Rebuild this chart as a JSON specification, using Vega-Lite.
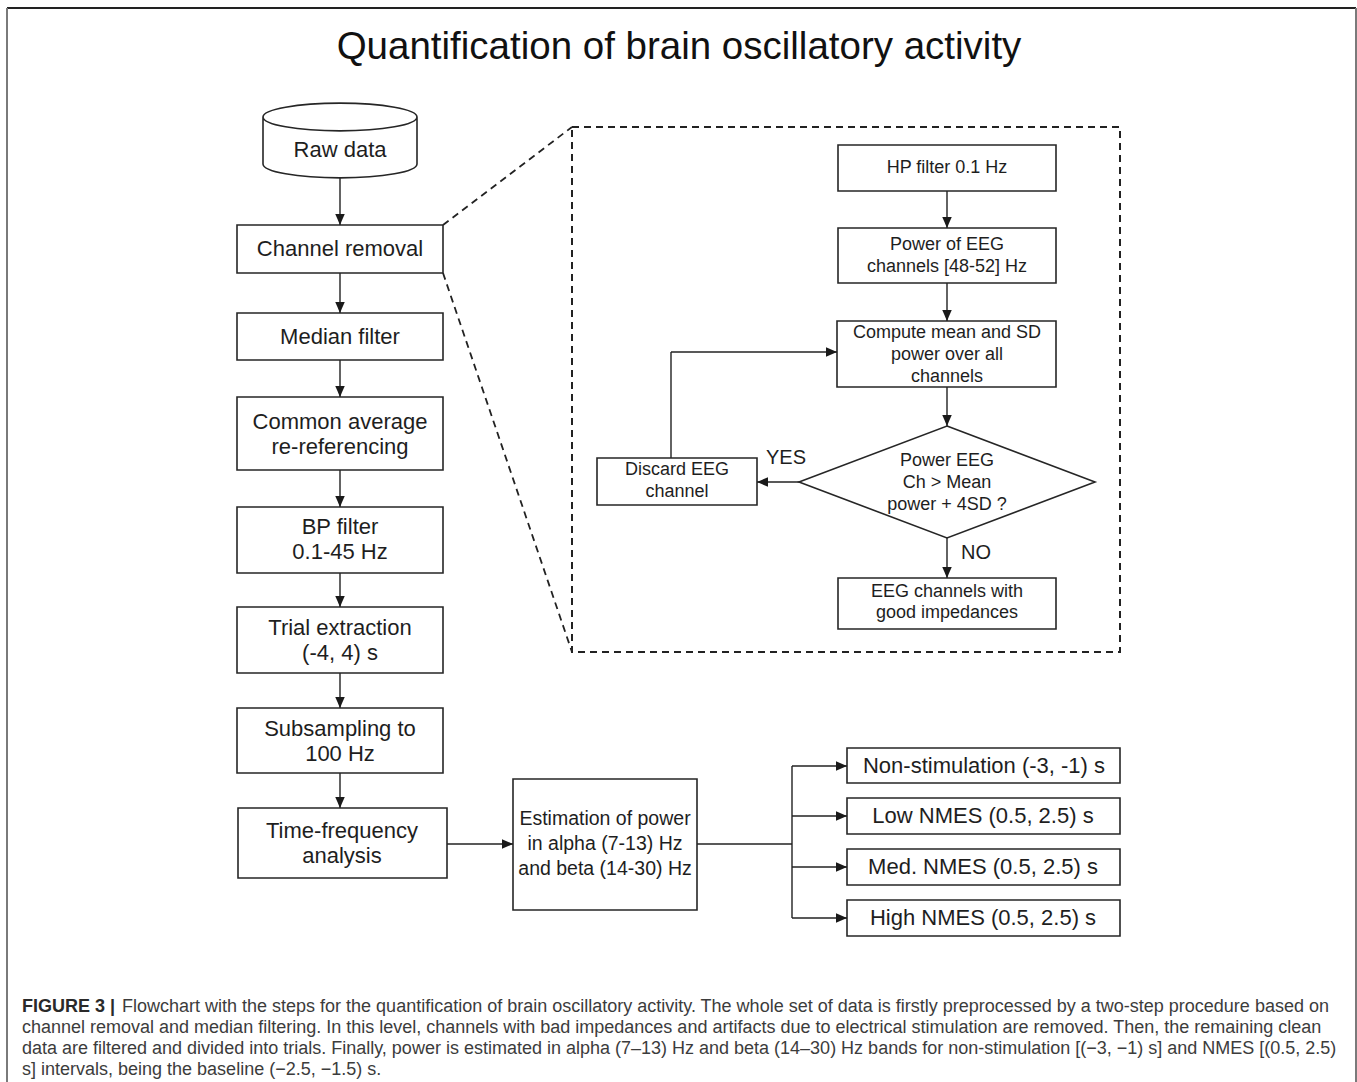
{
  "$schema": "https://vega.github.io/schema/vega-lite/v6.json",
  "width": 1357,
  "height": 1082,
  "padding": 0,
  "autosize": "none",
  "background": "white",
  "config": {"view": {"stroke": null}},
  "datasets": {
    "frame": [
      {"x": 7, "y": 8, "x2": 1356, "y2": 8, "side": "top"},
      {"x": 7, "y": 8, "x2": 7, "y2": 1082, "side": "left"},
      {"x": 1356, "y": 8, "x2": 1356, "y2": 1082, "side": "right"}
    ],
    "boxes": [
      {"name": "Channel removal", "x1": 237, "x2": 443, "y1": 225, "y2": 273},
      {"name": "Median filter", "x1": 237, "x2": 443, "y1": 313, "y2": 360},
      {"name": "Common average", "x1": 237, "x2": 443, "y1": 397, "y2": 470},
      {"name": "BP filter", "x1": 237, "x2": 443, "y1": 507, "y2": 573},
      {"name": "Trial extraction", "x1": 237, "x2": 443, "y1": 607, "y2": 673},
      {"name": "Subsampling", "x1": 237, "x2": 443, "y1": 708, "y2": 773},
      {"name": "Time-frequency", "x1": 238, "x2": 447, "y1": 808, "y2": 878},
      {"name": "Estimation", "x1": 513, "x2": 697, "y1": 779, "y2": 910},
      {"name": "Non-stimulation", "x1": 847, "x2": 1120, "y1": 748, "y2": 783},
      {"name": "Low NMES", "x1": 847, "x2": 1120, "y1": 798, "y2": 834},
      {"name": "Med NMES", "x1": 847, "x2": 1120, "y1": 849, "y2": 885},
      {"name": "High NMES", "x1": 847, "x2": 1120, "y1": 900, "y2": 936},
      {"name": "HP filter", "x1": 838, "x2": 1056, "y1": 145, "y2": 191},
      {"name": "Power of EEG", "x1": 838, "x2": 1056, "y1": 228, "y2": 283},
      {"name": "Compute", "x1": 837, "x2": 1056, "y1": 321, "y2": 387},
      {"name": "Discard", "x1": 597, "x2": 757, "y1": 458, "y2": 505},
      {"name": "Good channels", "x1": 838, "x2": 1056, "y1": 578, "y2": 629}
    ],
    "zoombox": [
      {"x1": 572, "x2": 1120, "y1": 127, "y2": 652}
    ],
    "cylinder": [{"name": "Raw data", "x": 340, "y": 140.5}],
    "decision": [{"name": "Power check", "x": 947, "y": 482}],
    "segments": [
      {"x": 340, "y": 178, "x2": 340, "y2": 225},
      {"x": 340, "y": 273, "x2": 340, "y2": 313},
      {"x": 340, "y": 360, "x2": 340, "y2": 397},
      {"x": 340, "y": 470, "x2": 340, "y2": 507},
      {"x": 340, "y": 573, "x2": 340, "y2": 607},
      {"x": 340, "y": 673, "x2": 340, "y2": 708},
      {"x": 340, "y": 773, "x2": 340, "y2": 808},
      {"x": 447, "y": 844, "x2": 513, "y2": 844},
      {"x": 697, "y": 844, "x2": 792, "y2": 844},
      {"x": 792, "y": 766, "x2": 792, "y2": 918},
      {"x": 792, "y": 766, "x2": 847, "y2": 766},
      {"x": 792, "y": 816, "x2": 847, "y2": 816},
      {"x": 792, "y": 867, "x2": 847, "y2": 867},
      {"x": 792, "y": 918, "x2": 847, "y2": 918},
      {"x": 947, "y": 191, "x2": 947, "y2": 228},
      {"x": 947, "y": 283, "x2": 947, "y2": 321},
      {"x": 947, "y": 387, "x2": 947, "y2": 426},
      {"x": 947, "y": 538, "x2": 947, "y2": 578},
      {"x": 799, "y": 482, "x2": 757, "y2": 482},
      {"x": 671, "y": 458, "x2": 671, "y2": 352},
      {"x": 671, "y": 352, "x2": 837, "y2": 352}
    ],
    "dashed": [
      {"x": 443, "y": 225, "x2": 572, "y2": 127},
      {"x": 443, "y": 273, "x2": 572, "y2": 652}
    ],
    "heads": [
      {"x": 340, "y": 225, "dir": "down"},
      {"x": 340, "y": 313, "dir": "down"},
      {"x": 340, "y": 397, "dir": "down"},
      {"x": 340, "y": 507, "dir": "down"},
      {"x": 340, "y": 607, "dir": "down"},
      {"x": 340, "y": 708, "dir": "down"},
      {"x": 340, "y": 808, "dir": "down"},
      {"x": 947, "y": 228, "dir": "down"},
      {"x": 947, "y": 321, "dir": "down"},
      {"x": 947, "y": 426, "dir": "down"},
      {"x": 947, "y": 578, "dir": "down"},
      {"x": 513, "y": 844, "dir": "right"},
      {"x": 847, "y": 766, "dir": "right"},
      {"x": 847, "y": 816, "dir": "right"},
      {"x": 847, "y": 867, "dir": "right"},
      {"x": 847, "y": 918, "dir": "right"},
      {"x": 837, "y": 352, "dir": "right"},
      {"x": 757, "y": 482, "dir": "left"}
    ],
    "labels": [
      {"kind": "main", "x": 340, "y": 150, "text": "Raw data"},
      {"kind": "main", "x": 340, "y": 249, "text": "Channel removal"},
      {"kind": "main", "x": 340, "y": 337, "text": "Median filter"},
      {"kind": "main", "x": 340, "y": 422, "text": "Common average"},
      {"kind": "main", "x": 340, "y": 447, "text": "re-referencing"},
      {"kind": "main", "x": 340, "y": 527, "text": "BP filter"},
      {"kind": "main", "x": 340, "y": 552, "text": "0.1-45 Hz"},
      {"kind": "main", "x": 340, "y": 628, "text": "Trial extraction"},
      {"kind": "main", "x": 340, "y": 653, "text": "(-4, 4) s"},
      {"kind": "main", "x": 340, "y": 729, "text": "Subsampling to"},
      {"kind": "main", "x": 340, "y": 754, "text": "100 Hz"},
      {"kind": "main", "x": 342, "y": 831, "text": "Time-frequency"},
      {"kind": "main", "x": 342, "y": 856, "text": "analysis"},
      {"kind": "estimate", "x": 605, "y": 819, "text": "Estimation of power"},
      {"kind": "estimate", "x": 605, "y": 844, "text": "in alpha (7-13) Hz"},
      {"kind": "estimate", "x": 605, "y": 869, "text": "and beta (14-30) Hz"},
      {"kind": "main", "x": 984, "y": 766, "text": "Non-stimulation (-3, -1) s"},
      {"kind": "main", "x": 983, "y": 816, "text": "Low NMES (0.5, 2.5) s"},
      {"kind": "main", "x": 983, "y": 867, "text": "Med. NMES (0.5, 2.5) s"},
      {"kind": "main", "x": 983, "y": 918, "text": "High NMES (0.5, 2.5) s"},
      {"kind": "inner", "x": 947, "y": 168, "text": "HP filter 0.1 Hz"},
      {"kind": "inner", "x": 947, "y": 245, "text": "Power of EEG"},
      {"kind": "inner", "x": 947, "y": 267, "text": "channels [48-52] Hz"},
      {"kind": "inner", "x": 947, "y": 333, "text": "Compute mean and SD"},
      {"kind": "inner", "x": 947, "y": 355, "text": "power over all"},
      {"kind": "inner", "x": 947, "y": 377, "text": "channels"},
      {"kind": "inner", "x": 947, "y": 461, "text": "Power EEG"},
      {"kind": "inner", "x": 947, "y": 483, "text": "Ch > Mean"},
      {"kind": "inner", "x": 947, "y": 505, "text": "power + 4SD ?"},
      {"kind": "inner", "x": 677, "y": 470, "text": "Discard EEG"},
      {"kind": "inner", "x": 677, "y": 492, "text": "channel"},
      {"kind": "inner", "x": 947, "y": 592, "text": "EEG channels with"},
      {"kind": "inner", "x": 947, "y": 613, "text": "good impedances"},
      {"kind": "branch", "x": 786, "y": 458, "text": "YES"},
      {"kind": "branch", "x": 976, "y": 553, "text": "NO"},
      {"kind": "title", "x": 679, "y": 47, "text": "Quantification of brain oscillatory activity"}
    ],
    "caption": [
      {"kind": "bold", "x": 22, "y": 1007, "text": "FIGURE 3"},
      {"kind": "bold", "x": 110, "y": 1007, "text": "|"},
      {"kind": "normal", "x": 122, "y": 1007, "text": "Flowchart with the steps for the quantification of brain oscillatory activity. The whole set of data is firstly preprocessed by a two-step procedure based on"},
      {"kind": "normal", "x": 22, "y": 1028, "text": "channel removal and median filtering. In this level, channels with bad impedances and artifacts due to electrical stimulation are removed. Then, the remaining clean"},
      {"kind": "normal", "x": 22, "y": 1049, "text": "data are filtered and divided into trials. Finally, power is estimated in alpha (7–13) Hz and beta (14–30) Hz bands for non-stimulation [(−3, −1) s] and NMES [(0.5, 2.5)"},
      {"kind": "normal", "x": 22, "y": 1070, "text": "s] intervals, being the baseline (−2.5, −1.5) s."}
    ]
  },
  "encoding": {
    "x": {"field": "x", "type": "quantitative", "scale": {"domain": [0, 1357], "nice": false, "zero": false}, "axis": null},
    "y": {"field": "y", "type": "quantitative", "scale": {"domain": [0, 1082], "nice": false, "zero": false, "reverse": true}, "axis": null}
  },
  "layer": [
    {
      "data": {"name": "frame"},
      "transform": [{"filter": "datum.side == 'top'"}],
      "mark": {"type": "rule", "stroke": "#222222", "strokeWidth": 2},
      "encoding": {"x2": {"field": "x2"}, "y2": {"field": "y2"}}
    },
    {
      "data": {"name": "frame"},
      "transform": [{"filter": "datum.side != 'top'"}],
      "mark": {"type": "rule", "stroke": "#7a7a7a", "strokeWidth": 2},
      "encoding": {"x2": {"field": "x2"}, "y2": {"field": "y2"}}
    },
    {
      "data": {"name": "zoombox"},
      "mark": {"type": "rect", "fill": null, "fillOpacity": 0, "stroke": "#222222", "strokeWidth": 2, "strokeDash": [7, 5]},
      "encoding": {
        "x": {"field": "x1", "type": "quantitative"},
        "x2": {"field": "x2"},
        "y": {"field": "y1", "type": "quantitative"},
        "y2": {"field": "y2"}
      }
    },
    {
      "data": {"name": "dashed"},
      "mark": {"type": "rule", "stroke": "#222222", "strokeWidth": 1.8, "strokeDash": [7, 5]},
      "encoding": {"x2": {"field": "x2"}, "y2": {"field": "y2"}}
    },
    {
      "data": {"name": "segments"},
      "mark": {"type": "rule", "stroke": "#222222", "strokeWidth": 1.4},
      "encoding": {"x2": {"field": "x2"}, "y2": {"field": "y2"}}
    },
    {
      "data": {"name": "boxes"},
      "mark": {"type": "rect", "fill": "white", "stroke": "#262626", "strokeWidth": 1.6},
      "encoding": {
        "x": {"field": "x1", "type": "quantitative"},
        "x2": {"field": "x2"},
        "y": {"field": "y1", "type": "quantitative"},
        "y2": {"field": "y2"}
      }
    },
    {
      "data": {"name": "cylinder"},
      "mark": {
        "type": "point",
        "shape": "M -1 -0.305 C -1 -0.405 -0.552 -0.485 0 -0.485 C 0.552 -0.485 1 -0.405 1 -0.305 C 1 -0.205 0.552 -0.125 0 -0.125 C -0.552 -0.125 -1 -0.205 -1 -0.305 Z M -1 -0.305 L -1 0.305 C -1 0.405 -0.552 0.485 0 0.485 C 0.552 0.485 1 0.405 1 0.305 L 1 -0.305",
        "size": 23716,
        "filled": false,
        "stroke": "#262626",
        "strokeWidth": 1.6,
        "opacity": 1
      }
    },
    {
      "data": {"name": "decision"},
      "mark": {
        "type": "point",
        "shape": "M 0 -0.378 L 1 0 L 0 0.378 L -1 0 Z",
        "size": 87616,
        "filled": false,
        "stroke": "#262626",
        "strokeWidth": 1.6,
        "opacity": 1
      }
    },
    {
      "data": {"name": "heads"},
      "mark": {"type": "point", "filled": true, "size": 110, "opacity": 1, "color": "#1a1a1a"},
      "encoding": {
        "shape": {
          "field": "dir",
          "type": "nominal",
          "legend": null,
          "scale": {
            "domain": ["down", "right", "left"],
            "range": ["M 0 0 L -0.9 -2.1 L 0.9 -2.1 Z", "M 0 0 L -2.1 -0.9 L -2.1 0.9 Z", "M 0 0 L 2.1 -0.9 L 2.1 0.9 Z"]
          }
        }
      }
    },
    {
      "data": {"name": "labels"},
      "transform": [{"filter": "datum.kind == 'main'"}],
      "mark": {"type": "text", "font": "Liberation Sans", "fontSize": 22, "color": "#1e1e1e", "align": "center", "baseline": "middle"},
      "encoding": {"text": {"field": "text"}}
    },
    {
      "data": {"name": "labels"},
      "transform": [{"filter": "datum.kind == 'estimate'"}],
      "mark": {"type": "text", "font": "Liberation Sans", "fontSize": 19.5, "color": "#1e1e1e", "align": "center", "baseline": "middle"},
      "encoding": {"text": {"field": "text"}}
    },
    {
      "data": {"name": "labels"},
      "transform": [{"filter": "datum.kind == 'inner'"}],
      "mark": {"type": "text", "font": "Liberation Sans", "fontSize": 18, "color": "#1e1e1e", "align": "center", "baseline": "middle"},
      "encoding": {"text": {"field": "text"}}
    },
    {
      "data": {"name": "labels"},
      "transform": [{"filter": "datum.kind == 'branch'"}],
      "mark": {"type": "text", "font": "Liberation Sans", "fontSize": 20, "color": "#1e1e1e", "align": "center", "baseline": "middle"},
      "encoding": {"text": {"field": "text"}}
    },
    {
      "data": {"name": "labels"},
      "transform": [{"filter": "datum.kind == 'title'"}],
      "mark": {"type": "text", "font": "Liberation Sans", "fontSize": 38.5, "color": "#111111", "align": "center", "baseline": "middle"},
      "encoding": {"text": {"field": "text"}}
    },
    {
      "data": {"name": "caption"},
      "transform": [{"filter": "datum.kind == 'bold'"}],
      "mark": {"type": "text", "font": "Liberation Sans", "fontSize": 18, "fontWeight": "bold", "color": "#2a2a2a", "align": "left", "baseline": "middle"},
      "encoding": {"text": {"field": "text"}}
    },
    {
      "data": {"name": "caption"},
      "transform": [{"filter": "datum.kind == 'normal'"}],
      "mark": {"type": "text", "font": "Liberation Sans", "fontSize": 18, "color": "#3c3c3c", "align": "left", "baseline": "middle"},
      "encoding": {"text": {"field": "text"}}
    }
  ]
}
